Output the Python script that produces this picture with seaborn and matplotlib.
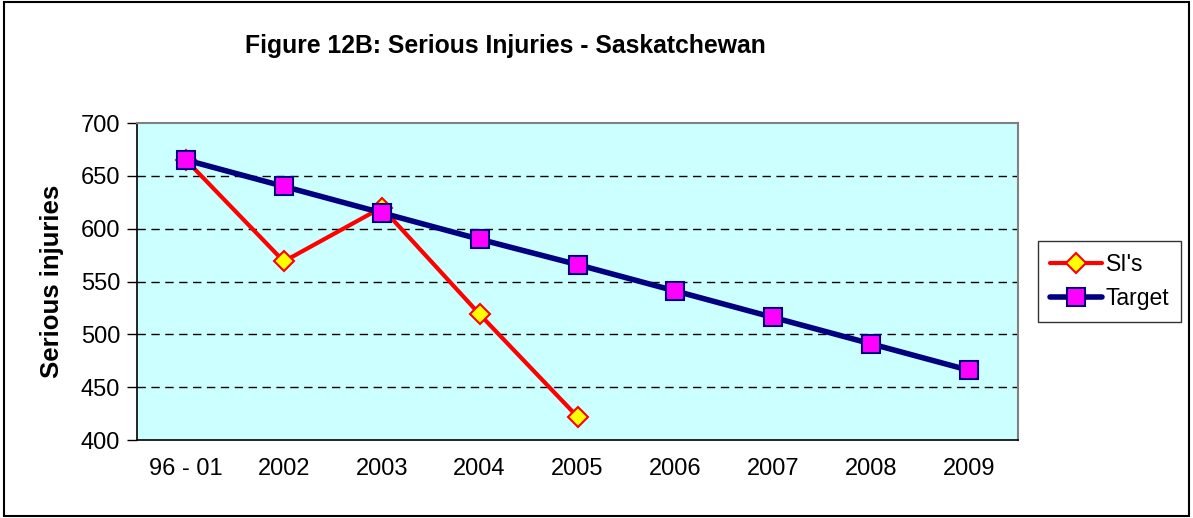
import numpy as np
import pandas as pd
import matplotlib
matplotlib.use("Agg")
import matplotlib.pyplot as plt
import seaborn as sns
from matplotlib.patches import Rectangle

# data
categories = ["96 - 01", "2002", "2003", "2004", "2005", "2006", "2007", "2008", "2009"]
si_values = [665, 569, 620, 519, 422]
target_values = [665, 640, 615, 590, 566, 541, 516, 491, 466]

sns.set_style("white")
plt.rcParams['font.family'] = ['Liberation Sans', 'DejaVu Sans']
plt.rcParams['text.color'] = 'black'
plt.rcParams['axes.labelcolor'] = 'black'
plt.rcParams['xtick.color'] = 'black'
plt.rcParams['ytick.color'] = 'black'

si_df = pd.DataFrame({"pos": np.arange(len(si_values)), "value": si_values})
target_df = pd.DataFrame({"pos": np.arange(len(target_values)), "value": target_values})

fig = plt.figure(figsize=(11.93, 5.18), dpi=100)
ax = fig.add_axes([137 / 1193, 78 / 518, 881 / 1193, 317 / 518])
ax.set_facecolor("#CCFFFF")

# dashed gridlines
for y in [450, 500, 550, 600, 650]:
    ax.axhline(y, color="black", lw=1, ls=(0, (6, 4)), zorder=1)

sns.lineplot(data=si_df, x="pos", y="value", ax=ax, color="#FF0000", lw=3,
             marker="D", markersize=10, markerfacecolor="#FFFF00",
             markeredgecolor="#FF0000", markeredgewidth=1.5, label="SI's", zorder=3)
sns.lineplot(data=target_df, x="pos", y="value", ax=ax, color="#000080", lw=4,
             marker="s", markersize=13, markerfacecolor="#FF00FF",
             markeredgecolor="#000080", markeredgewidth=1.5, label="Target", zorder=4)

ax.set_xlim(-0.5, len(categories) - 0.5)
ax.set_ylim(400, 700)
ax.set_yticks(np.arange(400, 701, 50))
ax.set_xticks(np.arange(len(categories)))
ax.set_xticklabels(categories)
ax.set_xticks(np.arange(-0.5, len(categories), 1), minor=True)
ax.tick_params(axis="x", which="major", length=0, pad=13, labelsize=17)
ax.tick_params(axis="x", which="minor", length=7, width=1, color="black", direction="out")
ax.tick_params(axis="y", length=7, width=1, color="black", direction="out", labelsize=17, pad=5,
               left=True)
ax.set_xlabel("")
ax.set_ylabel("Serious injuries", fontsize=18.5, fontweight="bold", labelpad=12)

for side in ["top", "right"]:
    ax.spines[side].set_color("#808080")
    ax.spines[side].set_linewidth(1.5)
for side in ["left", "bottom"]:
    ax.spines[side].set_color("black")
    ax.spines[side].set_linewidth(1.2)

leg = ax.legend(loc="center left", bbox_to_anchor=(1.023, 0.50), fontsize=16.5, frameon=True,
                fancybox=False, edgecolor="black", handlelength=2.3, borderpad=0.5,
                labelspacing=0.5, handletextpad=0.15, borderaxespad=0)
leg.get_frame().set_linewidth(1)

fig.text(505 / 1193, 1 - 46 / 518, "Figure 12B: Serious Injuries - Saskatchewan",
         ha="center", va="center", fontsize=17.8, fontweight="bold")

# outer chart border
fig.patches.append(Rectangle((4 / 1193, 2 / 518), 1185 / 1193, 1 - 4 / 518, transform=fig.transFigure,
                             fill=False, edgecolor="black", lw=1.5))

fig.savefig("out.png", dpi=100)
